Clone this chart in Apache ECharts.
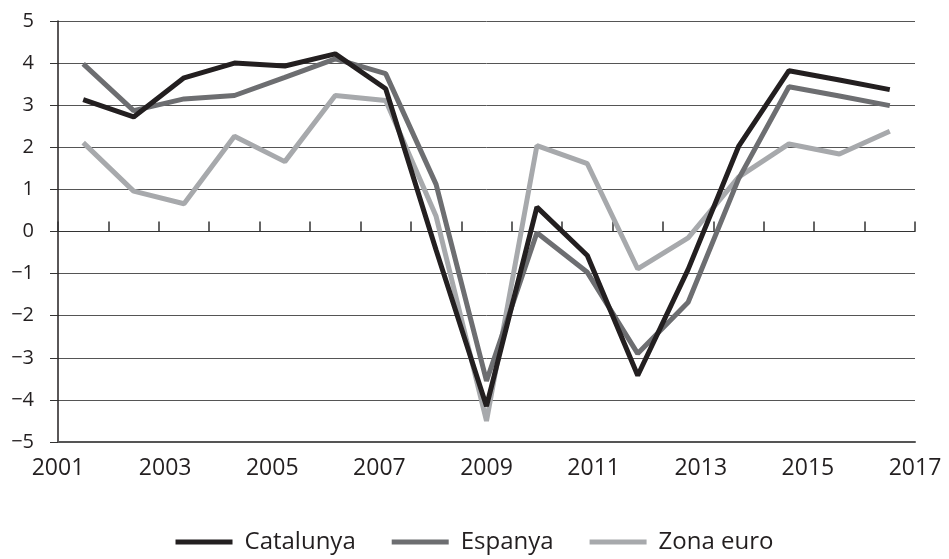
<!DOCTYPE html>
<html>
<head>
<meta charset="utf-8">
<script src="https://cdn.jsdelivr.net/npm/echarts@6/dist/echarts.min.js"></script>
<style>
	html, body {margin: 0; padding: 0; background: #fff;}
	#chart {width: 949px; height: 559px;}
</style>
</head>
<body>
<div id="chart"></div>
<script type="text/javascript">
	// 17 anys de dades (una per categoria)
	var years = ['2000', '2001', '2002', '2003', '2004', '2005', '2006', '2007', '2008',
		'2009', '2010', '2011', '2012', '2013', '2014', '2015', '2016'];
	var catalunya = [3.13, 2.72, 3.65, 4.0, 3.93, 4.22, 3.39, -0.44, -4.15,
		0.58, -0.57, -3.42, -0.9, 2.02, 3.82, 3.6, 3.37];
	var espanya = [3.98, 2.87, 3.15, 3.23, 3.66, 4.1, 3.75, 1.12, -3.55,
		-0.03, -0.97, -2.9, -1.68, 1.25, 3.44, 3.22, 2.99];
	var zonaEuro = [2.11, 0.96, 0.66, 2.26, 1.66, 3.23, 3.11, 0.36, -4.5,
		2.04, 1.61, -0.89, -0.15, 1.29, 2.08, 1.84, 2.38];
	// etiquetes de l'eix horitzontal
	var labelMin = 2001, labelMax = 2017, labelStep = 2;

	var font = '"Open Sans", "Noto Sans", sans-serif';
	var ink = '#231f20';

	var myChart = echarts.init(document.getElementById('chart'));
	var option = {
		animation: false,
		textStyle: {fontFamily: font, color: ink},
		grid: {left: 58, right: 34, top: 21, bottom: 117},
		legend: {
			bottom: 0,
			left: 'center',
			data: ['Catalunya', 'Espanya', 'Zona euro'],
			icon: 'rect',
			itemWidth: 57,
			itemHeight: 5,
			itemGap: 36,
			textStyle: {fontFamily: font, fontSize: 24, color: ink, padding: [0, 0, 0, 7]}
		},
		xAxis: [{
			type: 'category',
			data: years,
			boundaryGap: true,
			axisLine: {onZero: true, lineStyle: {color: '#333', width: 1}},
			axisTick: {show: true, inside: true, length: 10, interval: 0, lineStyle: {color: '#333', width: 1.5}},
			axisLabel: {show: false},
			splitLine: {show: false}
		}, {
			type: 'value',
			position: 'bottom',
			min: labelMin,
			max: labelMax,
			interval: labelStep,
			axisLine: {show: true, onZero: false, lineStyle: {color: '#555', width: 2}},
			axisTick: {show: false},
			splitLine: {show: false},
			axisLabel: {
				fontFamily: font, fontSize: 23, color: ink, margin: 15,
				formatter: function (v) { return String(v); }
			}
		}],
		yAxis: {
			type: 'value',
			min: -5,
			max: 5,
			interval: 1,
			axisLine: {show: true, lineStyle: {color: ink, width: 1.5}},
			axisTick: {show: true, length: 8, lineStyle: {color: '#333'}},
			axisLabel: {
				fontFamily: font, fontSize: 20, color: ink, margin: 24,
				formatter: function (v) { return String(v).replace('-', '\u2212'); }
			},
			splitLine: {show: true, lineStyle: {color: '#555', width: 1}}
		},
		series: [{
			name: 'Catalunya',
			type: 'line',
			data: catalunya,
			symbol: 'none',
			z: 5,
			itemStyle: {color: '#231f20'},
			lineStyle: {color: '#231f20', width: 5}
		}, {
			name: 'Espanya',
			type: 'line',
			data: espanya,
			symbol: 'none',
			z: 4,
			itemStyle: {color: '#6d6e71'},
			lineStyle: {color: '#6d6e71', width: 5}
		}, {
			name: 'Zona euro',
			type: 'line',
			data: zonaEuro,
			symbol: 'none',
			z: 3,
			itemStyle: {color: '#a7a9ac'},
			lineStyle: {color: '#a7a9ac', width: 5}
		}]
	};
	myChart.setOption(option);
</script>
</body>
</html>
